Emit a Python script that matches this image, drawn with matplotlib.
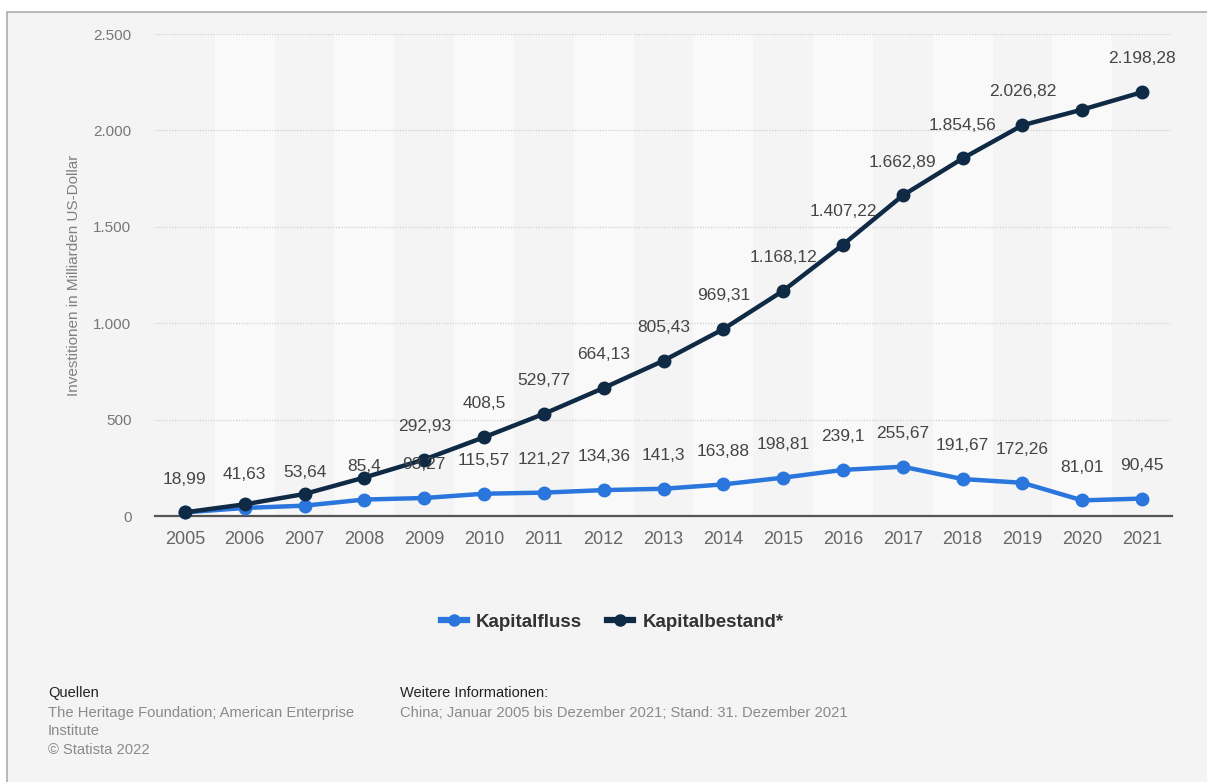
import matplotlib.pyplot as plt
import numpy as np
from matplotlib.lines import Line2D
from matplotlib.patches import Rectangle
from matplotlib.ticker import FuncFormatter

years = [str(y) for y in range(2005, 2022)]
kapitalfluss = [18.99, 41.63, 53.64, 85.4, 93.27, 115.57, 121.27, 134.36, 141.3,
                163.88, 198.81, 239.1, 255.67, 191.67, 172.26, 81.01, 90.45]
kapitalbestand = [18.99, 60.62, 114.26, 199.66, 292.93, 408.5, 529.77, 664.13, 805.43,
                  969.31, 1168.12, 1407.22, 1662.89, 1854.56, 2026.82, 2107.83, 2198.28]
# which stock values get a label
bestand_labeled = [False, False, False, False, True, True, True, True, True,
                   True, True, True, True, True, True, False, True]
y_ticks = [0, 500, 1000, 1500, 2000, 2500]

c_fluss = "#2a76dd"
c_bestand = "#0f2a45"
bg = "#f4f4f4"

plt.rcParams["font.family"] = ["Liberation Sans", "DejaVu Sans"]


def de_num(v, dec=2):
    s = f"{v:,.{dec}f}"
    s = s.replace(",", "X").replace(".", ",").replace("X", ".")
    if "," in s:
        s = s.rstrip("0").rstrip(",")
    return s


fig = plt.figure(figsize=(12.07, 7.82), dpi=100, facecolor="white")
W, H = 1207, 782
fig.patches.append(Rectangle((7 / W, -0.1), 1.1, (H - 12) / H + 0.1, transform=fig.transFigure,
                             facecolor=bg, edgecolor="#acacac", linewidth=1.2, zorder=-10))

ax = fig.add_axes([155 / W, 266 / H, (1172 - 155) / W, (516 - 34) / H])
ax.set_facecolor(bg)
x = np.arange(len(years))

for i in x:
    if i % 2 == 1:
        ax.axvspan(i - 0.5, i + 0.5, color="#f9f9f9", zorder=0, lw=0)

ax.set_xlim(-0.5, len(years) - 0.5)
ax.set_ylim(0, 2500)
ax.set_yticks(y_ticks)
ax.yaxis.set_major_formatter(FuncFormatter(lambda v, p: de_num(v, 0)))
ax.set_xticks(x)
ax.set_xticklabels(years)
ax.grid(axis="y", linestyle=(0, (1, 1.5)), color="#c8c8c8", linewidth=0.8, zorder=1)
for s in ["top", "right", "left"]:
    ax.spines[s].set_visible(False)
ax.spines["bottom"].set_color("#555555")
ax.spines["bottom"].set_linewidth(1.6)
ax.spines["bottom"].set_zorder(3)
ax.tick_params(axis="both", length=0)
ax.tick_params(axis="x", labelsize=13, pad=11, colors="#666666")
ax.tick_params(axis="y", labelsize=11, pad=17, colors="#777777")
ax.set_ylabel("Investitionen in Milliarden US-Dollar", fontsize=11, color="#808080", labelpad=9)

ax.plot(x, kapitalfluss, color=c_fluss, lw=3.2, marker="o", ms=9, zorder=4, clip_on=False)
ax.plot(x, kapitalbestand, color=c_bestand, lw=3.2, marker="o", ms=9, zorder=5, clip_on=False)

for i, v in enumerate(kapitalfluss):
    ax.annotate(de_num(v), (i, v), xytext=(0, 24), textcoords="offset points",
                ha="center", va="center", fontsize=12.5, color="#454545", zorder=6)
for i, v in enumerate(kapitalbestand):
    if bestand_labeled[i]:
        ax.annotate(de_num(v), (i, v), xytext=(0, 24), textcoords="offset points",
                    ha="center", va="center", fontsize=12.5, color="#454545", zorder=6)

handles = [
    Line2D([], [], color=c_fluss, lw=4.5, marker="o", ms=8),
    Line2D([], [], color=c_bestand, lw=4.5, marker="o", ms=8),
]
fig.legend(handles, ["Kapitalfluss", "Kapitalbestand*"], loc="center",
           bbox_to_anchor=(612 / W, 1 - 622 / H), ncol=2, frameon=False,
           handlelength=1.4, handletextpad=0.5, columnspacing=1.3,
           prop={"weight": "bold", "size": 13.5}, labelcolor="#333333")

fig.text(48 / W, 1 - 693 / H, "Quellen", fontsize=10.5, color="#222222", va="center")
fig.text(48 / W, 1 - 713 / H, "The Heritage Foundation; American Enterprise", fontsize=10.6,
         color="#8a8a8a", va="center")
fig.text(48 / W, 1 - 731 / H, "Institute", fontsize=10.6, color="#8a8a8a", va="center")
fig.text(48 / W, 1 - 750 / H, "© Statista 2022", fontsize=10.6, color="#8a8a8a", va="center")
fig.text(400 / W, 1 - 693 / H, "Weitere Informationen:", fontsize=10.5, color="#222222", va="center")
fig.text(400 / W, 1 - 713 / H, "China; Januar 2005 bis Dezember 2021; Stand: 31. Dezember 2021",
         fontsize=10.6, color="#8a8a8a", va="center")

fig.savefig("out.png", dpi=100, facecolor=fig.get_facecolor())
